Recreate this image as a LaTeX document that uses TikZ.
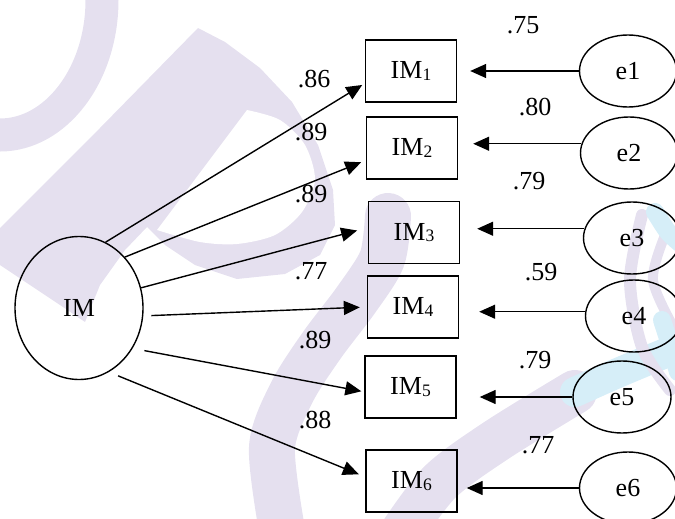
\documentclass[tikz,border=0pt]{standalone}
\usepackage{fontspec}
\setmainfont{Liberation Serif}
\usetikzlibrary{arrows.meta,shapes.geometric,calc}
\definecolor{wmlav}{RGB}{229,224,239}
\definecolor{wmcyan}{RGB}{214,238,248}
\newcommand\mysub[1]{\raisebox{-1.5pt}{\fontsize{17.5}{17.5}\selectfont #1}}
\begin{document}
\begin{tikzpicture}[x=1pt,y=-1pt,
  every node/.style={font=\fontsize{26}{31}\selectfont},
  ind/.style={draw,line width=1.4pt,minimum width=91pt,minimum height=62pt,inner sep=0pt},
  lat/.style={draw,ellipse,line width=1.4pt,inner sep=0pt},
  arr/.style={line width=1.4pt,-{Triangle[length=16pt,width=14pt]}},
  lbl/.style={inner sep=0pt},
  wm/.style={line cap=round,line join=round}]
\useasboundingbox (0,0) rectangle (675,519);
% ---------- watermark ----------
\draw[wmlav,line width=33pt] (102,-10) -- (102,0) .. controls (102,74.5) and (56,135) .. (0,135) -- (-10,135);
\fill[wmlav] (198,28) -- (225,42) -- (260,68) -- (292,102) -- (318,145) -- (333,190) -- (335,225)
  -- (320,255) -- (285,274) -- (237,279) -- (195,265) -- (165,245) -- (147,227) -- (125,250)
  -- (100,285) -- (85,322) -- (60,305) -- (30,285) -- (0,265) -- (0,228) -- (100,128) -- cycle;
\fill[white] (247,110) -- (157,230) -- plot[smooth] coordinates {(157,230) (200,242) (237,244) (275,235) (302,212) (315,180) (305,145) (280,120) (247,110)} -- cycle;
\draw[wm,wmlav,line width=46pt] plot[smooth] coordinates {(388,216) (382,259) (356,300) (322,345) (292,392) (272,447) (282,530)};
\draw[wm,wmlav,line width=44pt] plot[smooth] coordinates {(400,535) (440,482) (497,440) (575,392)};
\draw[wm,wmcyan,line width=30pt] plot[smooth] coordinates {(575,392) (620,372) (685,345)};
\draw[wm,wmlav,line width=12pt] plot[smooth] coordinates {(642,215) (630,280) (642,347) (670,390)};
\draw[wm,wmlav,line width=10pt] plot[smooth] coordinates {(668,228) (653,280) (678,335)};
\draw[wm,wmcyan,line width=18pt] plot[smooth] coordinates {(655,212) (668,232) (682,245)};
\draw[wm,wmcyan,line width=18pt] plot[smooth] coordinates {(662,320) (670,345) (678,372)};
% ---------- diagram ----------
\node[lat,minimum width=128pt,minimum height=143pt] (IM) at (79,308) {IM};
\node[ind] (b1) at (411,71) {IM\mysub{1}};
\node[ind] (b2) at (412,148) {IM\mysub{2}};
\node[ind] (b3) at (414,232.5) {IM\mysub{3}};
\node[ind] (b4) at (413,307) {IM\mysub{4}};
\node[ind] (b5) at (410.5,387) {IM\mysub{5}};
\node[ind] (b6) at (411.5,481) {IM\mysub{6}};
\node[lat,minimum width=97pt,minimum height=72pt] (e1) at (628,71) {e1};
\node[lat,minimum width=97pt,minimum height=72pt] (e2) at (629,153) {e2};
\node[lat,minimum width=97pt,minimum height=72pt] (e3) at (632,238) {e3};
\node[lat,minimum width=97pt,minimum height=72pt] (e4) at (634,316) {e4};
\node[lat,minimum width=98pt,minimum height=72pt] (e5) at (622,397) {e5};
\node[lat,minimum width=97pt,minimum height=72pt] (e6) at (628,488) {e6};
% loadings
\draw[arr,shorten >=3pt] (IM.68) -- (b1.195);
\draw[arr,shorten >=5pt] (IM.48) -- (b2.195);
\draw[arr,shorten >=11pt] (IM.18) -- (b3.174);
\draw[arr,shorten <=8pt,shorten >=7pt] (IM.-7) -- (b4.180);
\draw[arr,shorten <=12pt,shorten >=3pt] (IM.-37) -- (b5.186);
\draw[arr,shorten <=10pt,shorten >=7pt] (IM.-65) -- (b6.175);
% errors
\draw[arr,shorten >=13pt] (e1.180) -- (b1.east |- e1.180);
\draw[arr,shorten >=15pt] (e2.169) -- (b2.east |- e2.169);
\draw[arr,shorten >=17pt] (e3.169) -- (b3.east |- e3.169);
\draw[arr,shorten >=20pt] (e4.175) -- (b4.east |- e4.175);
\draw[arr,shorten >=23pt] (e5.180) -- (b5.east |- e5.180);
\draw[arr,shorten >=9pt] (e6.180) -- (b6.east |- e6.180);
% labels
\node[lbl] (l1) at (314,79) {.86};
\node[lbl] (l2) at (311,132) {.89};
\node[lbl] (l3) at (311,194) {.89};
\node[lbl] (l4) at (311,271) {.77};
\node[lbl] (l5) at (315,340) {.89};
\node[lbl] (l6) at (315,420) {.88};
\node[lbl] (r1) at (523,25) {.75};
\node[lbl] (r2) at (535,107.5) {.80};
\node[lbl] (r3) at (529,181) {.79};
\node[lbl] (r4) at (541,272) {.59};
\node[lbl] (r5) at (535,360) {.79};
\node[lbl] (r6) at (538,445) {.77};
\end{tikzpicture}
\end{document}
